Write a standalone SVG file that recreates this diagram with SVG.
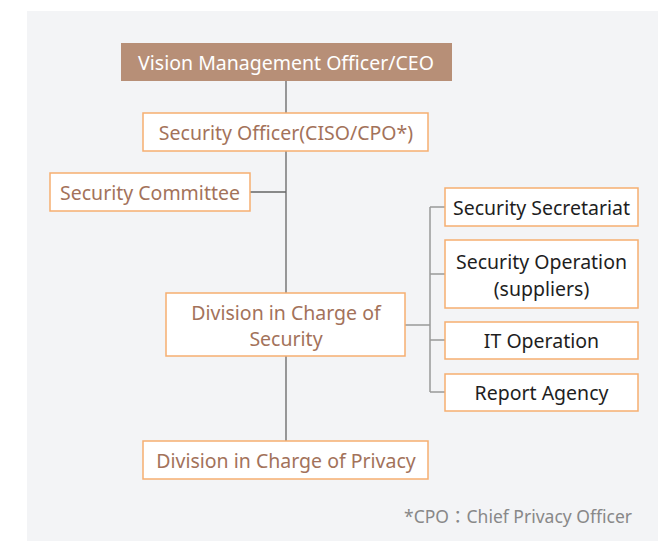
<svg xmlns="http://www.w3.org/2000/svg" width="658" height="541" viewBox="0 0 658 541">
<style>
.box{fill:#fff;stroke:#f6ae70;stroke-width:1.5}
.t{font-family:"Noto Sans","Noto Sans CJK KR",sans-serif;font-size:19.5px;text-anchor:middle;dominant-baseline:central}
.br{fill:#a3725a}
.dk{fill:#1e1e1e}
.main{stroke:#666;stroke-width:1.3;fill:none}
.sub{stroke:#999;stroke-width:1.5;fill:none}
</style>
<rect x="0" y="0" width="658" height="541" fill="#fff"/>
<rect x="27" y="11" width="631" height="530" fill="#f3f4f6"/>
<g id="connectors">
<path class="main" d="M286 81V113M286 151V293M250 192H286M286 356V441"/>
<path class="sub" d="M405 325H430M430 207V392M430 207H445M430 274H445M430 340H445M430 392H445"/>
</g>
<g id="ceo">
<rect x="121" y="43" width="331" height="38" fill="#b78f77"/>
<text class="t" x="286" y="62" fill="#fff">Vision Management Officer/CEO</text>
</g>
<g id="security-officer">
<rect class="box" x="143" y="113" width="285" height="38"/>
<text class="t br" x="286" y="132">Security Officer(CISO/CPO*)</text>
</g>
<g id="security-committee">
<rect class="box" x="50" y="173" width="200" height="38"/>
<text class="t br" x="150" y="192">Security Committee</text>
</g>
<g id="division-security">
<rect class="box" x="166" y="293" width="239" height="63"/>
<text class="t br" x="286" y="312">Division in Charge of</text>
<text class="t br" x="286" y="338">Security</text>
</g>
<g id="security-secretariat">
<rect class="box" x="445" y="188" width="193" height="38"/>
<text class="t dk" x="541.5" y="207">Security Secretariat</text>
</g>
<g id="security-operation">
<rect class="box" x="445" y="240" width="193" height="68"/>
<text class="t dk" x="541.5" y="261">Security Operation</text>
<text class="t dk" x="541.5" y="288">(suppliers)</text>
</g>
<g id="it-operation">
<rect class="box" x="445" y="322" width="193" height="37"/>
<text class="t dk" x="541.5" y="340">IT Operation</text>
</g>
<g id="report-agency">
<rect class="box" x="445" y="374" width="193" height="37"/>
<text class="t dk" x="541.5" y="392">Report Agency</text>
</g>
<g id="division-privacy">
<rect class="box" x="143" y="441" width="285" height="38"/>
<text class="t br" x="286" y="460">Division in Charge of Privacy</text>
</g>
<text x="632" y="516" font-family="'Noto Sans','Noto Sans CJK KR',sans-serif" font-size="17.5" fill="#888" text-anchor="end" dominant-baseline="central">*CPO：Chief Privacy Officer</text>
</svg>
